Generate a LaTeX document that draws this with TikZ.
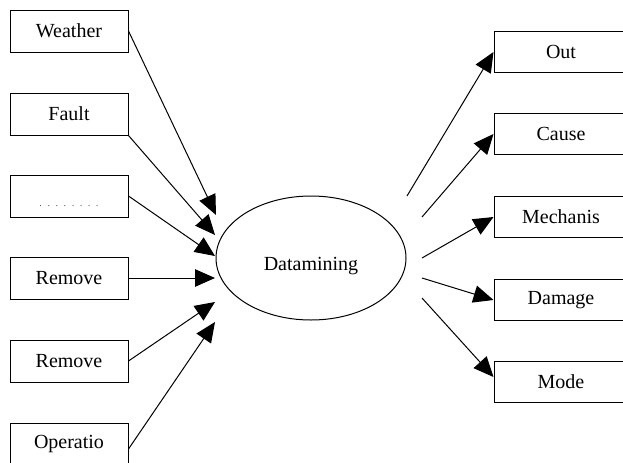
\documentclass[tikz,border=0pt]{standalone}
\usepackage{fontspec}
\setmainfont{Liberation Serif}
\usetikzlibrary{arrows.meta,shapes.geometric}

\begin{document}
\begin{tikzpicture}[x=0.6pt, y=-0.6pt, line width=0.6pt,
    every node/.style={font=\fontsize{12}{14}\selectfont},
    inbox/.style={draw, minimum width=70.8pt, minimum height=25.2pt, inner sep=0pt},
    outbox/.style={draw, minimum width=80.4pt, minimum height=24.6pt, inner sep=0pt},
    feed/.style={-{Triangle[length=12pt, width=10.5pt]}}]
  % Page frame
  \useasboundingbox (0,0) rectangle (623,462);

  % Input boxes
  \node[inbox] (weather) at (69,31)  {Weather};
  \node[inbox] (fault)   at (69,114) {Fault};
  \node[inbox] (dots)    at (69,196)
    {\smash{\raisebox{-6.5pt}{\tiny .\hspace{3.6pt}.\hspace{3.6pt}.\hspace{3.6pt}.\hspace{3.6pt}.\hspace{3.6pt}.\hspace{3.6pt}.\hspace{3.6pt}.}}};
  \node[inbox] (remA)    at (69,278) {Remove};
  \node[inbox] (remB)    at (69,361) {Remove};
  \node[inbox] (oper)    at (69,444) {Operatio};

  % Central ellipse
  \node[draw, ellipse, minimum width=114pt, minimum height=74.4pt, inner sep=0pt]
    (dm) at (311,258) {\smash{\raisebox{-7.5pt}{Datamining}}};

  % Output boxes
  \node[outbox] (out)  at (561,52)  {Out};
  \node[outbox] (cause) at (561,134) {Cause};
  \node[outbox] (mech) at (561,217) {Mechanis};
  \node[outbox] (dmg)  at (561,300) {Damage};
  \node[outbox] (mode) at (561,382) {Mode};

  % Arrow tips near the ellipse
  \coordinate (tA) at (216,215);
  \coordinate (tB) at (215,235);
  \coordinate (tC) at (215,256);
  \coordinate (tD) at (215,278);
  \coordinate (tE) at (215,302);
  \coordinate (tF) at (215,322);

  % Outgoing start points
  \coordinate (sA) at (407,196);
  \coordinate (sB) at (422,217);
  \coordinate (sC) at (422,258);
  \coordinate (sD) at (422,278);
  \coordinate (sE) at (422,298);

  % Inputs
  \draw[feed] (weather.east) -- (tA);
  \draw[feed] (fault.south east) -- (tB);
  \draw[feed] (dots.east) -- (tC);
  \draw[feed] (remA.east) -- (tD);
  \draw[feed] (remB.east) -- (tE);
  \draw[feed] ([yshift=-3pt]oper.east) -- (tF);

  % Outputs
  \draw[feed] (sA) -- (out.west);
  \draw[feed] (sB) -- (cause.west);
  \draw[feed] (sC) -- (mech.west);
  \draw[feed] (sD) -- (dmg.west);
  \draw[feed] (sE) -- ([yshift=3pt]mode.west);
\end{tikzpicture}
\end{document}
